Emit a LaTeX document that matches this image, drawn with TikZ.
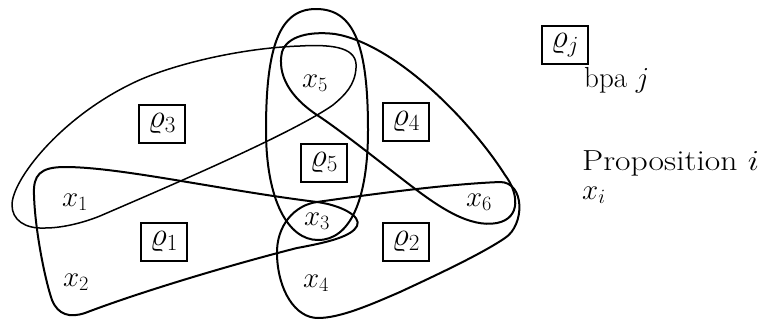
\RequirePackage{fix-cm}
\documentclass[tikz,border=0pt]{standalone}
\newcommand{\dfont}{\fontsize{29}{34}\selectfont}
\newcommand{\bfontsz}{\fontsize{33}{38}\selectfont}
\begin{document}
\begin{tikzpicture}[x=1pt,y=-1pt,
  hyper/.style={line width=2pt, line join=round},
  thinhyper/.style={line width=1.5pt, line join=round},
  bpabox/.style={draw, line width=1.4pt, minimum width=46pt, minimum height=38pt, inner sep=0pt, font=\bfontsz},
  lbl/.style={inner sep=0pt, font=\dfont}]
\useasboundingbox (0,0) rectangle (763,322);

% rho5 : tall ellipse (x3, x5)
\draw[hyper] (316,9) .. controls (354,9) and (368,45) .. (368,130)
  .. controls (368,200) and (350,240) .. (318,240)
  .. controls (288,240) and (266,200) .. (266,130)
  .. controls (266,45) and (280,9) .. cycle;

% rho4 : (x5, x6)
\draw[hyper] (317,115) .. controls (290,97) and (277,75) .. (282,52)
  .. controls (287,36) and (310,31) .. (335,34)
  .. controls (395,44) and (470,120) .. (505,175)
  .. controls (518,192) and (522,218) .. (497,223)
  .. controls (470,228) and (440,208) .. (410,185)
  .. controls (380,162) and (340,130) .. cycle;

% rho3 : (x1, x5)
\draw[thinhyper] (45,228) .. controls (25,229) and (12,220) .. (12,205)
  .. controls (12,180) and (60,118) .. (133,83)
  .. controls (170,65) and (240,48) .. (300,46)
  .. controls (335,44) and (358,48) .. (356,68)
  .. controls (355,85) and (345,95) .. (333,105)
  .. controls (290,135) and (160,190) .. (100,216)
  .. controls (80,224) and (60,228) .. cycle;

% rho1 : (x1, x2, x3)
\draw[hyper] (34,195) .. controls (33,175) and (40,167) .. (65,167)
  .. controls (120,167) and (220,190) .. (317,202)
  .. controls (340,205) and (362,216) .. (357,226)
  .. controls (352,236) and (330,242) .. (297,248)
  .. controls (230,265) and (140,292) .. (85,313)
  .. controls (70,318) and (58,315) .. (52,300)
  .. controls (45,280) and (35,230) .. cycle;

% rho2 : (x3, x4, x6)
\draw[hyper] (317,202) .. controls (380,193) and (450,184) .. (500,182)
  .. controls (525,182) and (525,225) .. (505,238)
  .. controls (480,255) and (430,278) .. (400,292)
  .. controls (370,305) and (340,318) .. (318,318)
  .. controls (295,318) and (278,290) .. (277,255)
  .. controls (276,225) and (295,205) .. cycle;

% propositions
\node[lbl] (x1) at (75,202) {$x_1$};
\node[lbl] (x2) at (76,282) {$x_2$};
\node[lbl] (x3) at (317,221) {$x_3$};
\node[lbl] (x4) at (316,283) {$x_4$};
\node[lbl] (x5) at (315,83) {$x_5$};
\node[lbl] (x6) at (479,202) {$x_6$};

% bpa boxes
\node[bpabox] (r1) at (164,242) {$\varrho_1$};
\node[bpabox] (r2) at (406,242) {$\varrho_2$};
\node[bpabox] (r3) at (162,124) {$\varrho_3$};
\node[bpabox] (r4) at (406,122) {$\varrho_4$};
\node[bpabox] (r5) at (324,163) {$\varrho_5$};

% legend
\node[bpabox] (rj) at (565,45) {$\varrho_j$};
\node[lbl, anchor=base west] (bpa) at (584,87) {bpa $j$};
\node[lbl, anchor=base west] (prop) at (582,170) {\scalebox{1.16}[1]{Proposition $i$}};
\node[lbl, anchor=base west] (xi) at (582,199) {$x_i$};
\end{tikzpicture}
\end{document}
